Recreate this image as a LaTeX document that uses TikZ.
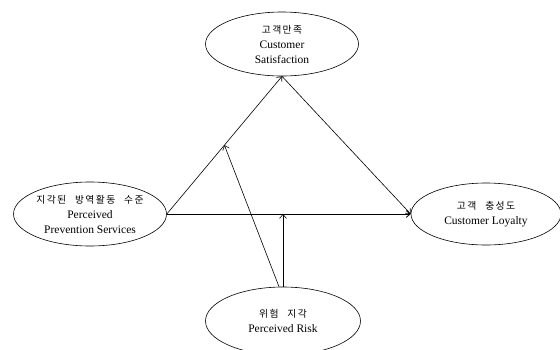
\documentclass[tikz,border=0pt]{standalone}
\usepackage{fontspec}
\setmainfont{Liberation Serif}
\newfontfamily\kofont[LetterSpace=14,WordSpace=2.5]{Noto Sans CJK KR}
\usetikzlibrary{shapes.geometric,arrows.meta,calc}
\tikzset{
  construct/.style={ellipse, draw, line width=0.6pt, minimum width=153pt, minimum height=64pt,
    inner sep=0pt, align=center, font=\fontsize{11.5}{15}\selectfont},
  link/.style={line width=0.6pt, -{Straight Barb[length=4pt,width=7pt]}},
}
\newcommand{\ko}[1]{{\kofont\fontsize{9.8}{15}\selectfont #1}}
\begin{document}
\begin{tikzpicture}[x=1pt,y=-1pt]
\useasboundingbox (0,0) rectangle (560,349);
\node[construct] (cs) at (282,44) {\ko{고객만족}\\Customer\\Satisfaction};
\node[construct] (pps) at (90,214) {\ko{지각된 방역활동 수준}\\Perceived\\Prevention Services};
\node[construct, minimum width=150pt, minimum height=62pt] (cl) at (486,214) {\ko{고객 충성도}\\Customer Loyalty};
\node[construct, minimum width=155pt, minimum height=68pt] (pr) at (283,321) {\ko{위험 지각}\\Perceived Risk};
\coordinate (prL) at ($(pr.north)+(-4,0)$);
\draw[link] (pps.east) -- (cs.south) coordinate[pos=0.5] (m1);
\draw[link] (cs.south) -- (cl.west);
\draw[link, line width=0.8pt] (pps.east) -- (cl.west) coordinate[pos=0.5] (m2);
\draw[link] (pr.north) -- (pr.north |- m2);
\draw[link] (prL) -- (m1);
\end{tikzpicture}
\end{document}
